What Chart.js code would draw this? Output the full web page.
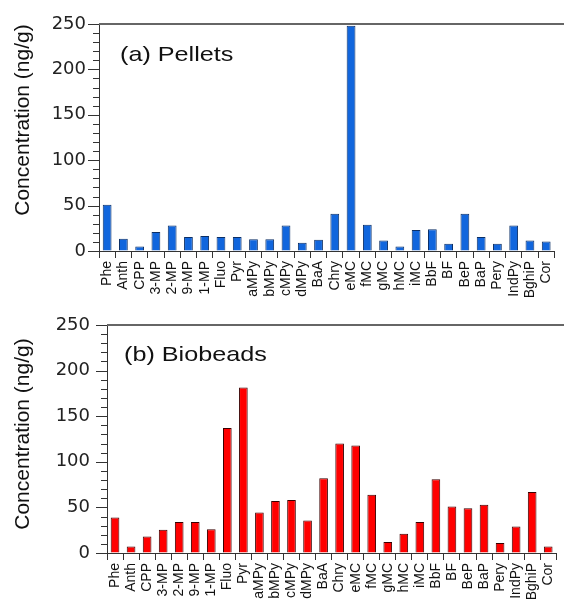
<!DOCTYPE html>
<html>
<head>
<meta charset="utf-8">
<script src="https://cdn.jsdelivr.net/npm/chart.js@4.4.0/dist/chart.umd.min.js"></script>
<style>
  html, body { margin: 0; padding: 0; background: #fff; overflow: hidden; width: 564px; height: 605px; }
  .panel { position: absolute; left: 0; }
  #top { top: 0; width: 566px; height: 300px; }
  #bottom { top: 300px; width: 568px; height: 305px; }
</style>
</head>
<body>
<div class="panel" id="top"><canvas id="pelletsChart"></canvas></div>
<div class="panel" id="bottom"><canvas id="biobeadsChart"></canvas></div>
<script>
// compound names along the x axis
const compounds = ['Phe', 'Anth', 'CPP', '3-MP', '2-MP', '9-MP', '1-MP', 'Fluo', 'Pyr', 'aMPy',
    'bMPy', 'cMPy', 'dMPy', 'BaA', 'Chry', 'eMC', 'fMC', 'gMC', 'hMC', 'iMC',
    'BbF', 'BF', 'BeP', 'BaP', 'Pery', 'IndPy', 'BghiP', 'Cor'];

// (a) Pellets, ng/g
const pellets = [51, 13.5, 5, 21, 28, 15.5, 16.5, 15.5, 15.5, 13,
    13, 28, 9, 12.5, 41, 248, 29, 11.5, 5, 23,
    24, 8, 41, 15.5, 8, 28, 11.5, 10.5];

// (b) Biobeads, ng/g
const biobeads = [39, 7, 18, 25.5, 34, 34, 26, 137, 181.5, 44.5,
    57, 58, 35.5, 82, 120, 118, 64, 12, 21, 34,
    81, 51, 49, 53, 11, 29, 67, 7];

const yTicks = [0, 50, 100, 150, 200, 250];

// panel label, y title, top frame line and the long/short y ticks
const decorPlugin = {
    id: 'decor',
    afterDraw(chart, args, opts) {
        const ctx = chart.ctx;
        const area = chart.chartArea;
        const y = chart.scales.y;
        const top = Math.round(y.getPixelForValue(250));
        ctx.save();

        // line along the top of the plot
        ctx.fillStyle = '#666';
        ctx.fillRect(area.left, top - 1, chart.canvas.width - area.left, 2);

        // y ticks every 10, longer every 50
        ctx.strokeStyle = '#333';
        ctx.lineWidth = 1;
        for (let v = 0; v <= 250; v += 10) {
            const py = Math.round(y.getPixelForValue(v)) + 0.5;
            const len = yTicks.includes(v) ? 11 : 6;
            ctx.beginPath();
            ctx.moveTo(area.left - len, py);
            ctx.lineTo(area.left, py);
            ctx.stroke();
        }

        // panel label
        ctx.fillStyle = '#111';
        ctx.font = '21px "Liberation Sans", Arial, sans-serif';
        ctx.textBaseline = 'middle';
        ctx.textAlign = 'left';
        ctx.translate(opts.labelX, opts.labelY);
        ctx.scale(1.2, 1);
        ctx.fillText(opts.label, 0, 0);
        ctx.restore();

        // y axis title
        ctx.save();
        ctx.fillStyle = '#111';
        ctx.font = '21px "Liberation Sans", Arial, sans-serif';
        ctx.textAlign = 'center';
        ctx.textBaseline = 'middle';
        ctx.translate(23, opts.titleY);
        ctx.rotate(-Math.PI / 2);
        ctx.fillText('Concentration (ng/g)', 0, 0);
        ctx.restore();
    }
};

function makeChart(id, values, fill, edge, cfg) {
    const ctx = document.getElementById(id).getContext('2d');
    return new Chart(ctx, {
        type: 'bar',
        data: {
            labels: compounds,
            datasets: [{
                data: values,
                backgroundColor: fill,
                borderColor: edge,
                borderWidth: 1,
                borderSkipped: 'bottom',
                barPercentage: 0.54,
                categoryPercentage: 1
            }]
        },
        options: {
            responsive: true,
            maintainAspectRatio: false,
            animation: false,
            layout: { padding: { top: cfg.padTop, left: 0, right: 0, bottom: 0 } },
            plugins: {
                legend: { display: false },
                tooltip: { enabled: false },
                decor: cfg.decor
            },
            scales: {
                x: {
                    offset: true,
                    grid: {
                        offset: true,
                        drawOnChartArea: false,
                        tickLength: 7,
                        tickColor: '#333'
                    },
                    border: { color: '#333', width: 1 },
                    ticks: {
                        autoSkip: false,
                        minRotation: 90,
                        maxRotation: 90,
                        padding: 3,
                        color: '#111',
                        font: { family: '"Liberation Sans", Arial, sans-serif', size: 14 }
                    },
                    afterFit(scale) { scale.height = cfg.xHeight; }
                },
                y: {
                    min: 0,
                    max: 250,
                    grid: {
                        drawOnChartArea: false,
                        tickLength: 12,
                        tickColor: 'rgba(0,0,0,0)'
                    },
                    border: { color: '#333', width: 1 },
                    ticks: {
                        stepSize: 50,
                        padding: cfg.yPad,
                        color: '#222',
                        font: { family: '"DejaVu Sans", sans-serif', size: 18 }
                    },
                    afterFit(scale) { scale.width = cfg.yWidth; }
                }
            }
        },
        plugins: [decorPlugin]
    });
}

makeChart('pelletsChart', pellets, '#1166dd', '#0b2f66', {
    padTop: 24, xHeight: 49, yWidth: 99, yPad: 1,
    decor: { label: '(a) Pellets', labelX: 120, labelY: 55, titleY: 120 }
});

makeChart('biobeadsChart', biobeads, '#ff0000', '#3a0000', {
    padTop: 25, xHeight: 52, yWidth: 107, yPad: 5,
    decor: { label: '(b) Biobeads', labelX: 124, labelY: 55, titleY: 134 }
});
</script>
</body>
</html>
